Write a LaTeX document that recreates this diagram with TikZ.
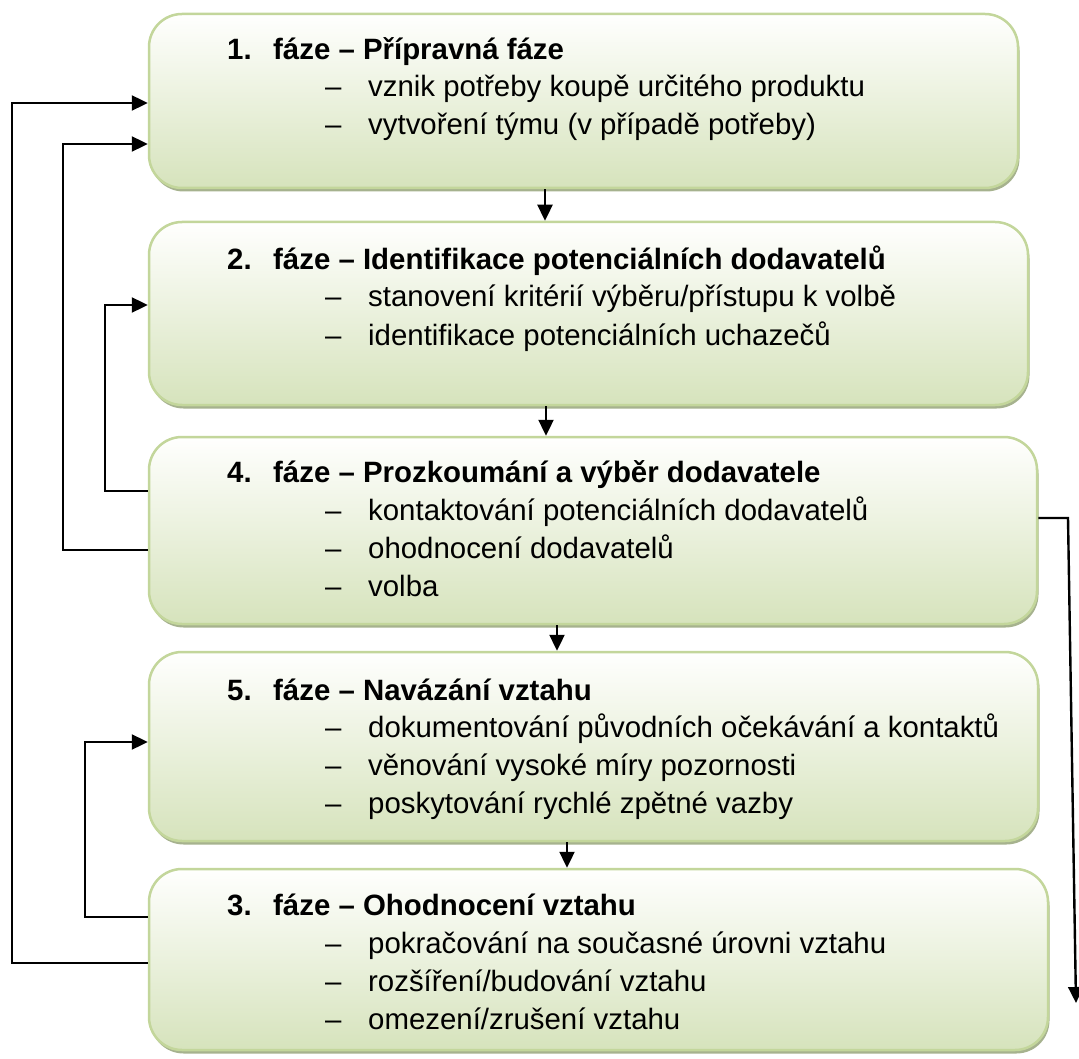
\documentclass[tikz,border=0pt]{standalone}
\usepackage{fontspec}
\setmainfont{Liberation Sans}
\usetikzlibrary{arrows.meta,shadows}

\definecolor{boxtop}{RGB}{255,255,254}
\definecolor{boxbottom}{RGB}{214,227,188}
\definecolor{boxline}{RGB}{195,214,155}
\definecolor{boxshadow}{RGB}{166,178,142}

\tikzset{
  phasebox/.style={rectangle, rounded corners=33pt, draw=boxline, line width=2.5pt,
    top color=boxtop, bottom color=boxbottom, inner sep=0pt,
    drop shadow={shadow xshift=1.5pt, shadow yshift=-3.5pt, fill=boxshadow, opacity=1}},
  phasetitle/.style={anchor=base west, inner sep=0pt, font=\fontsize{29.4}{34}\selectfont\bfseries},
  phaseitem/.style={anchor=base west, inner sep=0pt, font=\fontsize{29.4}{34}\selectfont},
  link/.style={draw=black, line width=2.4pt, -{Triangle[length=16pt,width=15pt]}}
}
\newcommand{\phasenum}[1]{\makebox[46pt][l]{#1}}
\newcommand{\itemdash}{\makebox[43pt][l]{–}}

\begin{document}
\begin{tikzpicture}[x=1pt, y=-1pt]
  \useasboundingbox (0,0) rectangle (1079,1059);

  % phase boxes
  \node[phasebox, minimum width=869pt, minimum height=174pt] (b1) at (583.5,101) {};
  \node[phasebox, minimum width=879pt, minimum height=183pt] (b2) at (588.5,313.5) {};
  \node[phasebox, minimum width=888pt, minimum height=187pt] (b3) at (593,530.5) {};
  \node[phasebox, minimum width=889pt, minimum height=189pt] (b4) at (593.5,746.5) {};
  \node[phasebox, minimum width=899pt, minimum height=181pt] (b5) at (598.5,959.5) {};

  % phase 1
  \node[phasetitle] (t1) at (227,60) {\phasenum{1.}fáze – Přípravná fáze};
  \node[phaseitem] (t1a) at (325,97) {\itemdash vznik potřeby koupě určitého produktu};
  \node[phaseitem] (t1b) at (325,135) {\itemdash vytvoření týmu (v případě potřeby)};

  % phase 2
  \node[phasetitle] (t2) at (227,270) {\phasenum{2.}fáze – Identifikace potenciálních dodavatelů};
  \node[phaseitem] (t2a) at (325,307) {\itemdash stanovení kritérií výběru/přístupu k volbě};
  \node[phaseitem] (t2b) at (325,345) {\itemdash identifikace potenciálních uchazečů};

  % phase 4
  \node[phasetitle] (t3) at (227,482) {\phasenum{4.}fáze – Prozkoumání a výběr dodavatele};
  \node[phaseitem] (t3a) at (325,520) {\itemdash kontaktování potenciálních dodavatelů};
  \node[phaseitem] (t3b) at (325,558) {\itemdash ohodnocení dodavatelů};
  \node[phaseitem] (t3c) at (325,596) {\itemdash volba};

  % phase 5
  \node[phasetitle] (t4) at (227,700) {\phasenum{5.}fáze – Navázání vztahu};
  \node[phaseitem] (t4a) at (325,737) {\itemdash dokumentování původních očekávání a kontaktů};
  \node[phaseitem] (t4b) at (325,775) {\itemdash věnování vysoké míry pozornosti};
  \node[phaseitem] (t4c) at (325,813) {\itemdash poskytování rychlé zpětné vazby};

  % phase 3
  \node[phasetitle] (t5) at (227,915) {\phasenum{3.}fáze – Ohodnocení vztahu};
  \node[phaseitem] (t5a) at (325,953) {\itemdash pokračování na současné úrovni vztahu};
  \node[phaseitem] (t5b) at (325,991) {\itemdash rozšíření/budování vztahu};
  \node[phaseitem] (t5c) at (325,1029) {\itemdash omezení/zrušení vztahu};

  % forward arrows between the phases
  \draw[link] ([xshift=-38.5pt]b1.south) -- ([xshift=-38.5pt]b1.south |- b2.north);
  \draw[link] ([xshift=-42.5pt]b2.south) -- ([xshift=-42.5pt]b2.south |- b3.north);
  \draw[link] ([xshift=-36pt]b3.south) -- ([xshift=-36pt]b3.south |- b4.north);
  \draw[link] ([xshift=-26.5pt]b4.south) -- ([xshift=-26.5pt]b4.south |- b5.north);

  % feedback loops on the left
  \draw[link] ([yshift=-3.5pt]b5.west) -| (12,103) -- ([yshift=-2pt]b1.west);
  \draw[link] ([yshift=-19.5pt]b3.west) -| (63,144) -- ([yshift=-43pt]b1.west);
  \draw[link] ([yshift=39.5pt]b3.west) -| (105,305) -- ([yshift=8.5pt]b2.west);
  \draw[link] ([yshift=42.5pt]b5.west) -| (85,742) -- ([yshift=4.5pt]b4.west);

  % exit on the right
  \coordinate (exit) at (1076,1003);
  \draw[link] ([yshift=12.5pt]b3.east) -- (1068,518) -- (exit);
\end{tikzpicture}
\end{document}
